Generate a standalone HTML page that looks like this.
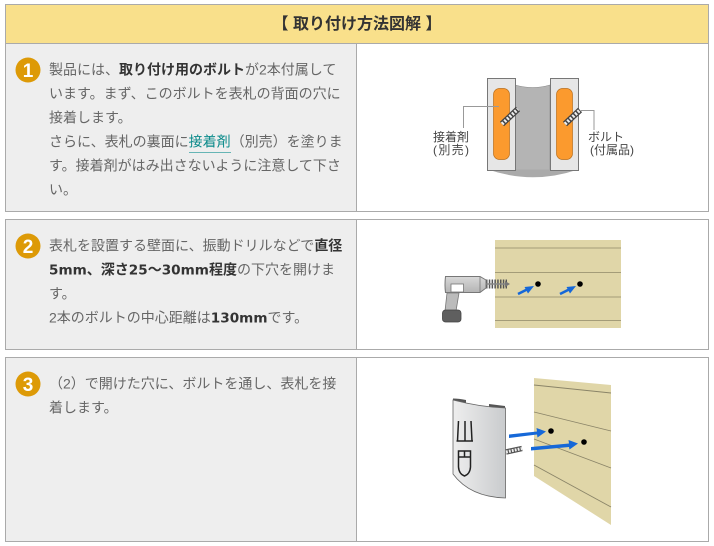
<!DOCTYPE html>
<html lang="ja">
<head>
<meta charset="utf-8">
<style>
html,body{margin:0;padding:0;background:#fff;width:714px;height:546px;overflow:hidden}
svg{display:block}
text{font-family:"Liberation Sans","Noto Sans CJK JP",sans-serif}
.t{font-size:14px;fill:#666}
.t tspan.b{font-weight:700;fill:#333}
.t tspan.d{font-family:"DejaVu Sans",sans-serif;font-size:13.600px;font-weight:700;fill:#333}
.n{font-size:19px;font-weight:700;fill:#fff;text-anchor:middle}
.l{font-size:12px;fill:#444}
</style>
</head>
<body>
<svg width="714" height="546" viewBox="0 0 714 546" xmlns="http://www.w3.org/2000/svg">
<defs>
<linearGradient id="plate" x1="0" x2="1" y1="0" y2="0"><stop offset="0" stop-color="#eeeeee"/><stop offset="1" stop-color="#c9cbcd"/></linearGradient>
<linearGradient id="dr" x1="0" x2="0" y1="0" y2="1"><stop offset="0" stop-color="#d8d8d8"/><stop offset="1" stop-color="#b4b4b4"/></linearGradient>
</defs>

<!-- Header -->
<rect x="5.5" y="4.5" width="703" height="39" fill="#f9e08b" stroke="#aaa"/>
<text x="357" y="29" text-anchor="middle" font-size="16" font-weight="700" fill="#333">【 取り付け方法図解 】</text>

<!-- Row 1 -->
<rect x="5.5" y="43.5" width="703" height="168" fill="#fff" stroke="#aaa"/>
<rect x="6" y="44" width="350" height="167" fill="#eee"/>
<line x1="356.5" y1="44" x2="356.5" y2="211" stroke="#aaa"/>
<circle cx="28" cy="70" r="12.500" fill="#dd9a07"/>
<text class="n" x="28" y="77">1</text>
<text class="t" x="49" y="74.500">製品には、<tspan class="b">取り付け用のボルト</tspan>が2本付属して</text>
<text class="t" x="49" y="98.500">います。まず、このボルトを表札の背面の穴に</text>
<text class="t" x="49" y="122.500">接着します。</text>
<text class="t" x="49" y="146.500">さらに、表札の裏面に<tspan fill="#0a8a8a">接着剤</tspan>（別売）を塗りま</text>
<line x1="189" y1="152.500" x2="231" y2="152.500" stroke="#66b5b5"/>
<text class="t" x="49" y="170.500">す。接着剤がはみ出さないように注意して下さ</text>
<text class="t" x="49" y="194.500">い。</text>

<!-- Row 1 illustration -->
<path d="M515 85 Q533 90 550 85 L550 171 L515 171 Z" fill="#b4b4b4" stroke="#8a8a8a" stroke-width=".6"/>
<path d="M488 169.500 Q533 185 578 169.500 Z" fill="#aaaaaa"/>
<rect x="487.500" y="78.500" width="28" height="92" fill="#e6e6e6" stroke="#777"/>
<rect x="550.500" y="78.500" width="28" height="92" fill="#e6e6e6" stroke="#777"/>
<rect x="493.500" y="88.500" width="16" height="71" rx="6" fill="#fb9a2e" stroke="#b96f1c" stroke-width=".7"/>
<rect x="556.500" y="88.500" width="16" height="71" rx="6" fill="#fb9a2e" stroke="#b96f1c" stroke-width=".7"/>
<line x1="502" y1="124" x2="518" y2="109" stroke="#444" stroke-width="6"/>
<line x1="502" y1="124" x2="518" y2="109" stroke="#eee" stroke-width="3.500" stroke-dasharray="2 1.500"/>
<line x1="565" y1="124" x2="580" y2="110" stroke="#444" stroke-width="6"/>
<line x1="565" y1="124" x2="580" y2="110" stroke="#eee" stroke-width="3.500" stroke-dasharray="2 1.500"/>
<path d="M499 106.500 H463.500 V128" fill="none" stroke="#999"/>
<path d="M581 110.500 H594 V130" fill="none" stroke="#999"/>
<text class="l" x="433" y="141">接着剤</text>
<text class="l" x="433" y="154" textLength="36">(別売)</text>
<text class="l" x="588" y="141">ボルト</text>
<text class="l" x="590" y="154" textLength="44">(付属品)</text>

<!-- Row 2 -->
<rect x="5.5" y="219.500" width="703" height="130" fill="#fff" stroke="#aaa"/>
<rect x="6" y="220" width="350" height="129" fill="#eee"/>
<line x1="356.500" y1="220" x2="356.500" y2="349" stroke="#aaa"/>
<circle cx="28" cy="246" r="12.500" fill="#dd9a07"/>
<text class="n" x="28" y="253">2</text>
<text class="t" x="49" y="250.500">表札を設置する壁面に、振動ドリルなどで<tspan class="b">直径</tspan></text>
<text class="t" x="49" y="274.500"><tspan class="d">5mm</tspan><tspan class="b">、深さ</tspan><tspan class="d">25</tspan><tspan class="b">～</tspan><tspan class="d">30mm</tspan><tspan class="b">程度</tspan>の下穴を開けま</text>
<text class="t" x="49" y="298.500">す。</text>
<text class="t" x="49" y="322.500">2本のボルトの中心距離は<tspan class="d">130mm</tspan>です。</text>

<!-- Row 2 illustration -->
<rect x="495" y="240" width="126" height="88" fill="#e0d6a8"/>
<g stroke="#a49c78" stroke-width="1.100"><line x1="495" y1="248" x2="621" y2="248"/><line x1="495" y1="272.500" x2="621" y2="272.500"/><line x1="495" y1="297" x2="621" y2="297"/><line x1="495" y1="320.500" x2="621" y2="320.500"/></g>
<circle cx="538" cy="284" r="2.800" fill="#000"/>
<circle cx="580" cy="284" r="2.800" fill="#000"/>
<line x1="518" y1="294" x2="527" y2="289.500" stroke="#1668d8" stroke-width="2.600"/>
<path d="M534 286 L528 293.500 L524.500 287Z" fill="#1668d8"/>
<line x1="560" y1="294" x2="569" y2="289.500" stroke="#1668d8" stroke-width="2.600"/>
<path d="M576 286 L570 293.500 L566.500 287Z" fill="#1668d8"/>
<line x1="486" y1="284" x2="507" y2="284" stroke="#555" stroke-width="9" stroke-dasharray="1.500 1.300"/>
<line x1="486" y1="284" x2="508" y2="284" stroke="#888" stroke-width="1.500"/>
<path d="M505 281 L510 284 L505 287Z" fill="#777"/>
<path d="M447 293 H459 L456 311 H445Z" fill="#bbb" stroke="#777" stroke-width=".8"/>
<path d="M445.500 276.500 H480 L486 280 V288 L480 292.500 H445.500 Q444.500 285 445.500 276.500Z" fill="url(#dr)" stroke="#777"/>
<line x1="480" y1="276.500" x2="480" y2="292.500" stroke="#777" stroke-width=".8"/>
<rect x="451" y="284" width="12.500" height="8" fill="#fff" stroke="#777" stroke-width=".8"/>
<rect x="442.500" y="310" width="18.500" height="12" rx="3" fill="#5f5f5f" stroke="#444" stroke-width=".8"/>

<!-- Row 3 -->
<rect x="5.5" y="357.500" width="703" height="184" fill="#fff" stroke="#aaa"/>
<rect x="6" y="358" width="350" height="183" fill="#eee"/>
<line x1="356.500" y1="358" x2="356.500" y2="541" stroke="#aaa"/>
<circle cx="28" cy="384" r="12.500" fill="#dd9a07"/>
<text class="n" x="28" y="391">3</text>
<text class="t" x="49" y="388.500">（2）で開けた穴に、ボルトを通し、表札を接</text>
<text class="t" x="49" y="412.500">着します。</text>

<!-- Row 3 illustration -->
<path d="M534 378 L611 385 V525 L534 476Z" fill="#e0d6a8"/>
<g stroke="#8a8468" stroke-width=".9" fill="none"><line x1="534" y1="385" x2="611" y2="393"/><line x1="534" y1="412" x2="611" y2="431"/><line x1="534" y1="439" x2="611" y2="468"/><line x1="534" y1="465" x2="611" y2="507"/></g>
<circle cx="551" cy="431" r="2.800" fill="#000"/>
<circle cx="584" cy="442" r="2.800" fill="#000"/>
<path d="M453 398.500 Q459 398.500 466 400 L466 403 L453 401Z M489 404 L505 406 V410 L489 407Z" fill="#555"/>
<path d="M453 400 Q480 407 505.500 408 V498 Q470 497 453 474Z" fill="url(#plate)" stroke="#666" stroke-width=".8"/>
<g fill="none" stroke="#222" stroke-width="1.500">
<path d="M458.500 421 L457.500 441 M465 421 V441 M471 421 L472 441 M456.500 441 H473"/>
<path d="M458.500 451 H470.500 V467 Q470 474 464.500 476 Q459 474 458.500 467Z M458.500 457 H470.500 M464.500 451 V457"/>
</g>
<line x1="506" y1="452" x2="522" y2="448.500" stroke="#555" stroke-width="5.500"/>
<line x1="506" y1="452" x2="522" y2="448.500" stroke="#eee" stroke-width="3" stroke-dasharray="1.800 1.200"/>
<path d="M509 434.500 L537 431.500 L536.500 428 L546 431.500 L537.500 437.500 L537 434.500 L509 438Z" fill="#1668d8"/>
<path d="M531 447 L569 443.500 L568.500 440 L578 443.500 L569.500 449.500 L569 447 L531 450.500Z" fill="#1668d8"/>
</svg>
</body>
</html>
